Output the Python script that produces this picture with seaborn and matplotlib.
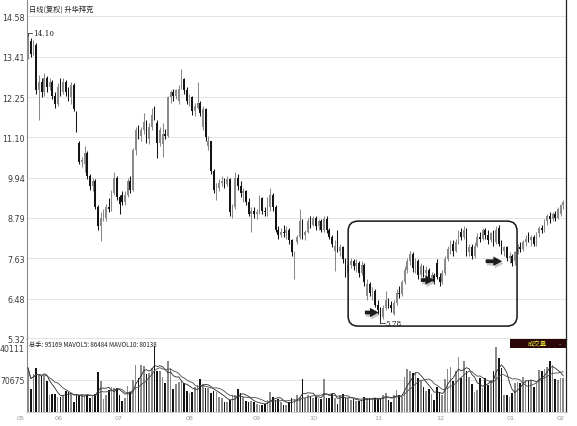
import numpy as np
import pandas as pd
import matplotlib
matplotlib.use("Agg")
import matplotlib.pyplot as plt
import seaborn as sns
from matplotlib.patches import FancyBboxPatch, Rectangle
import matplotlib.transforms as mtransforms

# ---------------- data ----------------
opens = [13.50, 13.85, 13.50, 13.75, 12.45, 12.70, 12.40, 12.80, 12.55, 12.70,
         12.30, 12.05, 12.55, 12.40, 12.70, 12.40, 12.25, 12.60, 11.80, 10.95,
         10.40, 10.35, 10.65, 10.00, 9.70, 9.85, 9.10, 8.55, 8.80, 8.80,
         9.10, 9.05, 9.50, 9.95, 9.40, 9.45, 9.25, 9.45, 9.85, 9.60,
         10.75, 11.30, 11.15, 11.30, 11.55, 11.05, 11.40, 11.75, 11.50, 10.95,
         10.90, 11.20, 11.15, 12.25, 12.40, 12.30, 12.15, 12.55, 12.78, 12.45,
         12.15, 12.25, 11.85, 11.95, 12.10, 11.40, 11.90, 10.85, 11.00, 10.15,
         9.40, 9.65, 9.80, 9.85, 9.75, 9.90, 8.95, 9.10, 9.95, 9.70,
         9.50, 9.55, 9.25, 8.90, 9.00, 8.90, 8.95, 9.35, 9.00, 8.95,
         9.10, 9.45, 9.10, 8.45, 8.30, 8.40, 8.35, 8.45, 8.15, 7.60,
         8.10, 8.25, 8.70, 8.30, 8.40, 8.70, 8.60, 8.80, 8.55, 8.70,
         8.45, 8.75, 8.45, 8.25, 7.85, 8.40, 7.85, 7.95, 7.60, 7.20,
         7.45, 7.55, 7.40, 7.50, 7.20, 7.45, 6.55, 6.90, 6.50, 6.70,
         6.30, 6.10, 5.95, 6.20, 6.45, 6.30, 6.05, 6.35, 6.65, 6.60,
         6.95, 7.30, 7.55, 7.75, 7.35, 7.55, 7.15, 7.40, 7.20, 7.30,
         7.05, 7.15, 7.50, 7.10, 6.95, 7.20, 7.60, 7.90, 8.05, 7.85,
         8.10, 8.40, 8.25, 8.40, 7.80, 7.95, 7.70, 8.00, 8.25, 8.20,
         8.45, 8.30, 8.15, 8.35, 8.10, 8.50, 8.05, 7.85, 7.95, 7.65,
         7.70, 7.55, 7.80, 7.95, 7.90, 8.10, 8.20, 8.15, 8.25, 8.05,
         8.35, 8.50, 8.45, 8.70, 8.85, 8.75, 8.90, 8.80, 8.90, 9.15]

highs = [14.10, 13.95, 13.90, 13.80, 12.90, 12.80, 12.95, 12.85, 12.80, 12.75,
         12.40, 12.65, 12.80, 12.80, 12.75, 12.55, 12.70, 12.65, 11.85, 11.00,
         10.55, 10.85, 10.70, 10.05, 9.95, 9.90, 9.15, 8.95, 9.05, 9.20,
         9.35, 9.60, 10.10, 10.00, 9.45, 9.55, 9.55, 9.95, 10.00, 10.80,
         11.40, 11.45, 11.40, 11.80, 11.60, 11.50, 11.95, 12.00, 11.60, 11.40,
         11.50, 11.35, 12.30, 12.45, 12.50, 12.50, 12.60, 13.06, 12.80, 12.55,
         12.35, 12.30, 12.10, 12.70, 12.15, 12.00, 11.95, 11.15, 11.00, 10.20,
         9.80, 9.90, 10.00, 9.95, 10.00, 9.95, 9.20, 10.10, 10.05, 9.85,
         9.65, 9.60, 9.35, 9.10, 9.10, 9.05, 9.45, 9.40, 9.10, 9.40,
         9.65, 9.50, 9.15, 8.55, 8.50, 8.60, 8.55, 8.50, 8.20, 7.85,
         8.30, 9.05, 8.75, 8.45, 8.80, 8.85, 8.85, 8.85, 8.75, 8.75,
         8.85, 8.85, 8.50, 8.30, 8.15, 8.45, 8.05, 8.00, 7.65, 7.55,
         7.65, 7.60, 7.60, 7.55, 7.55, 7.50, 7.05, 6.95, 6.80, 6.75,
         6.45, 6.25, 6.30, 6.70, 6.50, 6.40, 6.45, 6.75, 6.85, 7.00,
         7.40, 7.65, 7.85, 7.80, 7.65, 7.60, 7.50, 7.45, 7.40, 7.35,
         7.25, 7.20, 7.60, 7.20, 7.30, 7.70, 8.00, 8.15, 8.15, 8.20,
         8.45, 8.50, 8.55, 8.50, 8.05, 8.05, 8.10, 8.35, 8.40, 8.50,
         8.50, 8.45, 8.40, 8.45, 8.55, 8.60, 8.15, 8.00, 8.00, 7.80,
         7.75, 7.85, 8.05, 8.10, 8.15, 8.30, 8.40, 8.30, 8.30, 8.40,
         8.55, 8.60, 8.75, 8.90, 8.95, 8.95, 9.00, 9.10, 9.20, 9.30]

lows = [13.35, 13.40, 13.45, 12.35, 11.60, 12.25, 12.30, 12.40, 12.45, 12.20,
        11.95, 12.00, 12.30, 12.35, 12.30, 12.15, 12.05, 11.85, 11.25, 10.35,
        10.25, 10.10, 9.90, 9.60, 9.55, 9.05, 8.45, 8.13, 8.70, 8.70,
        8.95, 9.00, 9.45, 9.30, 8.90, 9.15, 9.15, 9.40, 9.50, 9.55,
        10.60, 11.05, 11.00, 11.20, 10.95, 10.90, 11.30, 11.60, 10.50, 10.85,
        10.55, 11.05, 11.10, 12.10, 12.15, 12.20, 12.05, 12.50, 12.35, 12.05,
        12.00, 11.75, 11.70, 11.90, 11.70, 11.30, 11.00, 10.75, 10.05, 9.50,
        9.30, 9.55, 9.70, 9.65, 9.70, 8.85, 8.80, 9.05, 9.60, 9.40,
        9.25, 9.15, 8.85, 8.40, 8.80, 8.75, 8.90, 8.90, 8.85, 8.85,
        9.00, 9.00, 8.40, 8.20, 8.25, 8.25, 8.20, 8.05, 7.70, 7.04,
        8.05, 8.20, 8.20, 8.15, 8.35, 8.50, 8.55, 8.45, 8.45, 8.40,
        8.40, 8.35, 8.20, 7.95, 7.27, 7.80, 7.70, 7.50, 7.10, 7.05,
        7.35, 7.30, 7.25, 7.10, 7.15, 6.85, 6.45, 6.55, 6.45, 6.25,
        6.05, 5.78, 5.90, 6.15, 6.20, 6.10, 6.00, 6.30, 6.50, 6.55,
        6.90, 7.20, 7.45, 7.25, 7.20, 7.05, 7.10, 7.10, 7.00, 7.00,
        6.95, 6.90, 7.05, 6.85, 6.90, 7.15, 7.55, 7.75, 7.70, 7.80,
        8.05, 8.15, 8.20, 7.70, 7.70, 7.60, 7.65, 7.95, 8.10, 8.15,
        8.20, 8.05, 8.10, 8.00, 8.05, 8.00, 7.75, 7.70, 7.55, 7.50,
        7.40, 7.45, 7.75, 7.80, 7.85, 8.00, 8.10, 8.00, 8.00, 8.00,
        8.25, 8.35, 8.40, 8.60, 8.65, 8.70, 8.70, 8.75, 8.85, 9.05]

closes = [13.85, 13.50, 13.75, 12.45, 12.70, 12.40, 12.80, 12.55, 12.70, 12.30,
          12.05, 12.55, 12.40, 12.70, 12.40, 12.25, 12.60, 11.90, 11.35, 10.40,
          10.45, 10.65, 10.00, 9.70, 9.85, 9.10, 8.55, 8.80, 8.90, 9.10,
          9.05, 9.50, 9.95, 9.40, 9.20, 9.25, 9.45, 9.85, 9.60, 10.75,
          11.30, 11.15, 11.30, 11.55, 11.05, 11.40, 11.75, 11.65, 10.95, 11.30,
          11.20, 11.15, 12.25, 12.40, 12.30, 12.45, 12.50, 12.78, 12.45, 12.15,
          12.25, 11.85, 12.00, 12.10, 11.80, 11.90, 11.10, 11.00, 10.15, 9.60,
          9.65, 9.80, 9.85, 9.75, 9.90, 8.95, 9.10, 9.95, 9.70, 9.50,
          9.55, 9.25, 8.90, 9.00, 8.90, 8.95, 9.35, 9.00, 8.95, 9.30,
          9.45, 9.10, 8.45, 8.30, 8.40, 8.35, 8.45, 8.15, 7.80, 7.75,
          8.25, 8.70, 8.30, 8.40, 8.70, 8.60, 8.80, 8.55, 8.70, 8.45,
          8.75, 8.45, 8.25, 8.05, 8.00, 7.85, 7.95, 7.60, 7.20, 7.45,
          7.55, 7.40, 7.50, 7.20, 7.45, 6.95, 6.90, 6.65, 6.70, 6.30,
          6.15, 5.95, 6.20, 6.45, 6.30, 6.20, 6.35, 6.65, 6.60, 6.95,
          7.30, 7.55, 7.75, 7.35, 7.55, 7.15, 7.40, 7.20, 7.30, 7.05,
          7.15, 6.95, 7.10, 6.95, 7.20, 7.60, 7.90, 8.05, 7.85, 8.10,
          8.40, 8.25, 8.45, 7.80, 7.95, 7.70, 8.00, 8.25, 8.20, 8.45,
          8.30, 8.15, 8.35, 8.10, 8.45, 8.05, 7.85, 7.95, 7.65, 7.70,
          7.50, 7.80, 7.95, 7.90, 8.10, 8.20, 8.15, 8.25, 8.05, 8.35,
          8.50, 8.45, 8.70, 8.85, 8.75, 8.90, 8.80, 9.05, 9.15, 9.25]

# volume in thousands of lots
volumes_k = [96.7, 49.8, 84.1, 96.7, 81.8, 78.1, 78.1, 68.4, 37.2, 38.7,
             38.7, 33.5, 33.5, 37.2, 46.1, 44.6, 40.9, 22.3, 37.2, 37.2,
             38.7, 37.2, 37.2, 29.8, 37.2, 38.7, 87.8, 68.4, 28.3, 37.2,
             48.4, 55.8, 53.6, 52.1, 37.2, 23.8, 29.8, 58.0, 43.2, 70.7,
             102.7, 74.4, 102.7, 100.4, 83.3, 85.6, 96.7, 143.6, 89.3, 90.8,
             75.9, 63.2, 111.6, 96.7, 49.8, 61.0, 65.5, 68.4, 63.2, 46.1,
             40.9, 44.6, 55.8, 59.5, 72.9, 61.0, 52.1, 52.1, 40.9, 46.1,
             43.2, 33.5, 31.2, 20.8, 20.8, 26.0, 37.2, 37.2, 49.8, 42.4,
             33.5, 23.8, 22.3, 23.8, 20.8, 18.6, 16.4, 14.9, 18.6, 26.0,
             43.2, 33.5, 26.0, 28.3, 22.3, 16.4, 14.9, 22.3, 29.8, 28.3,
             37.2, 33.5, 72.2, 29.8, 37.2, 35.0, 31.2, 33.5, 29.8, 28.3,
             72.9, 29.8, 31.2, 38.7, 29.8, 18.6, 37.2, 38.7, 29.8, 29.8,
             26.0, 27.5, 23.8, 23.8, 26.0, 33.5, 29.8, 29.8, 28.3, 31.2,
             28.3, 29.8, 37.2, 42.4, 26.0, 22.3, 37.2, 48.4, 37.2, 33.5,
             75.9, 95.2, 89.3, 85.6, 85.6, 74.4, 67.0, 55.8, 46.1, 50.6,
             38.7, 26.0, 55.8, 43.2, 37.2, 72.9, 94.5, 98.2, 68.4, 89.3,
             120.5, 74.4, 111.6, 89.3, 75.9, 61.0, 44.6, 48.4, 74.4, 52.1,
             74.4, 59.5, 70.7, 89.3, 141.4, 117.6, 96.7, 37.2, 37.2, 33.5,
             40.9, 63.2, 65.5, 63.2, 75.9, 70.7, 68.4, 70.7, 55.8, 63.2,
             93.0, 89.3, 95.2, 98.2, 111.6, 102.7, 72.9, 70.7, 74.4, 74.0]

price_ticks = [14.58, 13.41, 12.25, 11.10, 9.94, 8.79, 7.63, 6.48, 5.32]
price_tick_labels = ["14.58", "13.41", "12.25", "11.10", "9.94", "8.79", "7.63", "6.48", "5.32"]
vol_ticks = [70675, 140111]
vol_tick_labels = ["70675", "40111"]
month_labels = ["05", "06", "07", "08", "09", "10", "11", "12", "01", "02"]
month_pos = [-2.9, 11.5, 33.8, 59.9, 85.1, 105.9, 130.1, 153.2, 179.6, 198.1]
title_text = "日线(复权) 升华拜克"
vol_header = "总手: 95169 MAVOL5: 86484 MAVOL10: 80138"
vol_badge = "成交量"

# highlighted region (index range, price range) and arrows (tail idx, tip idx, price)
box_idx = (119.0, 181.8)
box_price = (5.69, 8.70)
arrows = [(124.2, 131.4, 6.08), (145.0, 152.0, 7.01), (169.1, 177.3, 7.55)]

assert len(opens) == len(highs) == len(lows) == len(closes) == len(volumes_k)

# ---------------- style ----------------
sns.set_style("white")
plt.rcParams["font.family"] = ["DejaVu Sans"]
CJK = ["Noto Sans CJK SC", "DejaVu Sans"]

UP = "#8a8a8a"
DOWN = "#141414"

o = np.array(opens); h = np.array(highs); l = np.array(lows); c = np.array(closes)
vol = np.array(volumes_k) * 1000.0
N = len(o)
idx = np.arange(N)
up = c >= o
cols = np.where(up, UP, DOWN)

W, H = 577, 427
fig = plt.figure(figsize=(W / 100, H / 100), dpi=100)
fig.patch.set_facecolor("white")

x0, x1 = 27, 566
axp = fig.add_axes([x0 / W, 1 - 340 / H, (x1 - x0) / W, 340 / H])
axv = fig.add_axes([x0 / W, 1 - 413 / H, (x1 - x0) / W, (413 - 340) / H])

xlim = (-0.4, 200.0)
ylim_p = (5.32, 5.32 + 340 / 34.88)

# ---------------- price panel ----------------
for yv in price_ticks[:-1]:
    axp.axhline(yv, color="#b5b5b5", lw=0.6, ls=(0, (1, 1.4)), zorder=0)

axp.vlines(idx, l, h, colors=cols, linewidth=0.75, zorder=2)
axp.bar(idx, np.maximum(np.abs(c - o), 0.025), bottom=np.minimum(o, c), width=0.62,
        color=cols, linewidth=0, zorder=3)

axp.set_xlim(*xlim)
axp.set_ylim(*ylim_p)
axp.set_xticks([])
axp.set_yticks(price_ticks)
axp.set_yticklabels(price_tick_labels)
axp.tick_params(axis="y", length=0, pad=1.5, labelsize=5.8, labelcolor="#3a3a3a")
axp.spines["top"].set_visible(False)
axp.spines["left"].set_color("#8a8a8a"); axp.spines["left"].set_linewidth(0.8)
axp.spines["right"].set_color("#222222"); axp.spines["right"].set_linewidth(0.9)
axp.spines["bottom"].set_color("#222222"); axp.spines["bottom"].set_linewidth(0.9)

# max / min annotations
imax = int(np.argmax(h)); imin = int(np.argmin(l))
axp.plot([imax, imax + 1.6], [h[imax], h[imax]], color="#333", lw=0.6)
axp.plot([imax, imax], [h[imax], h[imax] - 0.1], color="#333", lw=0.6)
axp.text(imax + 1.8, h[imax], f"{h[imax]:.2f}", fontsize=5.2, va="center", ha="left",
         color="#222", family="DejaVu Serif")
axp.plot([imin, imin + 1.8], [l[imin], l[imin]], color="#333", lw=0.6)
axp.plot([imin, imin], [l[imin], l[imin] + 0.1], color="#333", lw=0.6)
axp.text(imin + 2.0, l[imin], f"{l[imin]:.2f}", fontsize=5.2, va="center", ha="left",
         color="#222", family="DejaVu Serif")

# rounded highlight box
fig.canvas.draw()
bb = axp.get_window_extent()
px_x = bb.width / (xlim[1] - xlim[0])
px_y = bb.height / (ylim_p[1] - ylim_p[0])
box = FancyBboxPatch((box_idx[0], box_price[0]), box_idx[1] - box_idx[0],
                     box_price[1] - box_price[0],
                     boxstyle=f"round,pad=0,rounding_size={10 / px_x:.3f}",
                     mutation_aspect=px_x / px_y, fill=False, ec="#151515", lw=1.1,
                     zorder=5)
axp.add_patch(box)

# arrows with soft shadow
for tail, tip, yv in arrows:
    axp.annotate("", xy=(tip + 0.5, yv - 0.07), xytext=(tail + 0.5, yv - 0.07),
                 arrowprops=dict(arrowstyle="simple,head_length=0.7,head_width=0.75,tail_width=0.3",
                                 color="#9a9a9a", alpha=0.55, mutation_scale=9, lw=0),
                 zorder=6)
    axp.annotate("", xy=(tip, yv), xytext=(tail, yv),
                 arrowprops=dict(arrowstyle="simple,head_length=0.7,head_width=0.75,tail_width=0.3",
                                 color="#1c1c1c", mutation_scale=9, lw=0),
                 zorder=7)

# ---------------- volume panel ----------------
df = pd.DataFrame({"i": idx, "vol": vol, "dir": np.where(up, "up", "down")})
axv.axhline(vol_ticks[0], color="#b5b5b5", lw=0.6, ls=(0, (1, 1.4)), zorder=0)
sns.barplot(data=df, x="i", y="vol", hue="dir", palette={"up": UP, "down": DOWN},
            dodge=False, native_scale=True, width=0.62, errorbar=None, legend=False,
            saturation=1, linewidth=0, ax=axv, zorder=2)
ma5 = pd.Series(vol).rolling(5, min_periods=1).mean().to_numpy()
ma10 = pd.Series(vol).rolling(10, min_periods=1).mean().to_numpy()
sns.lineplot(x=idx, y=ma5, ax=axv, color="#2a2a2a", lw=0.6, zorder=4)
sns.lineplot(x=idx, y=ma10, ax=axv, color="#4a4a4a", lw=0.6, zorder=4)

axv.set_xlim(*xlim)
axv.set_ylim(0, vol_ticks[1] * 73 / 64)
axv.set_xlabel(""); axv.set_ylabel("")
axv.set_xticks([])
axv.set_yticks(vol_ticks)
axv.set_yticklabels(vol_tick_labels)
axv.tick_params(axis="y", length=0, pad=1.5, labelsize=5.6, labelcolor="#3a3a3a")
axv.spines["top"].set_visible(False)
axv.spines["left"].set_color("#8a8a8a"); axv.spines["left"].set_linewidth(0.8)
axv.spines["right"].set_color("#222222"); axv.spines["right"].set_linewidth(0.9)
axv.spines["bottom"].set_color("#c8c8c8"); axv.spines["bottom"].set_linewidth(0.6)

trans = mtransforms.blended_transform_factory(axv.transData, axv.transAxes)
for lab, pos in zip(month_labels, month_pos):
    axv.text(pos, -6 / 73, lab, transform=trans, fontsize=4.6, color="#9a9a9a",
             ha="center", va="center", clip_on=False)

# ---------------- texts ----------------
fig.text(29 / W, 1 - 10 / H, title_text, fontsize=5.2, family=CJK, color="#222",
         ha="left", va="center")
fig.text(29 / W, 1 - 345 / H, vol_header, fontsize=4.5, family=CJK, color="#222",
         ha="left", va="center")
fig.patches.append(Rectangle((510 / W, 1 - 349 / H), 56 / W, 9 / H,
                             transform=fig.transFigure, facecolor="#2a0808",
                             edgecolor="none", zorder=10))
fig.text(537 / W, 1 - 344.5 / H, vol_badge, fontsize=4.6, family=CJK, color="#e3e336",
         ha="center", va="center", zorder=11)
fig.text(560 / W, 1 - 344.5 / H, "-", fontsize=4.5, color="#bbbbbb",
         ha="center", va="center", zorder=11)

fig.savefig("out.png", dpi=100)
